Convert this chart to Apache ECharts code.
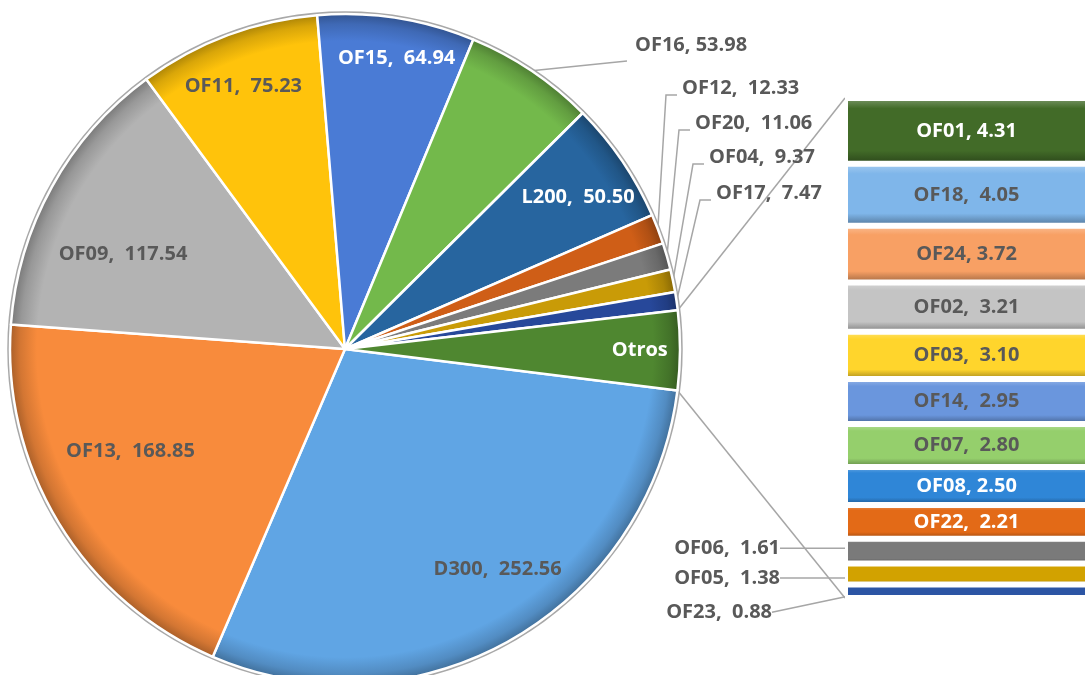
<!DOCTYPE html>
<html><head><meta charset="utf-8">
<script src="https://cdn.jsdelivr.net/npm/echarts@6.0.0/dist/echarts.min.js"></script>
<style>html,body{margin:0;padding:0;background:#fff}#c{width:1088px;height:675px}</style>
</head><body><div id="c"></div>
<script>
// ---- data ----
const pieNames  = ['D300','OF13','OF09','OF11','OF15','OF16','L200','OF12','OF20','OF04','OF17','Otros'];
const pieValues = [252.56,168.85,117.54,75.23,64.94,53.98,50.50,12.33,11.06,9.37,7.47];
const barNames  = ['OF01','OF18','OF24','OF02','OF03','OF14','OF07','OF08','OF22','OF06','OF05','OF23'];
const barValues = [4.31,4.05,3.72,3.21,3.10,2.95,2.80,2.50,2.21,1.61,1.38,0.88];

// ---- style / layout ----
const pieColors = ['#60a5e4','#f88b3c','#b3b3b3','#ffc30b','#4a7bd5','#73b94b','#27659f','#cf5e17','#7b7b7b','#c99b07','#27489a','#4f8730'];
const pieLabelColors = ['#595959','#595959','#595959','#595959','#ffffff','#595959','#ffffff','#595959','#595959','#595959','#595959','#ffffff'];
const pieLabelR  = [0.80,0.71,0.72,0.84,0.88,null,0.83,null,null,null,null,0.88];
const pieLabelDA = [-4.9,5.7,-5.9,-0.6,1.2,0,1.1,0,0,0,0,0];
const outLabelPos = {OF16:[635,45], OF12:[682,88], OF20:[695,123], OF04:[709,157], OF17:[716,193]};
const barColors = ['#426b28','#7fb6ea','#f8a064','#c4c4c4','#ffd52c','#6a96dd','#95cf6c','#2f86d7','#e36a17','#7a7a7a','#d2a200','#2c55a4'];
const barLabelColors = ['#ffffff','#595959','#595959','#595959','#595959','#595959','#595959','#ffffff','#ffffff','#595959','#595959','#595959'];
const barOutside = {OF06:[-65,-3], OF05:[-65,4], OF23:[-73,21]};
const singleSep = ['OF01','OF24','OF08','OF16'];
const FONT = 'Open Sans';
const FS = 20;
const CX = 345, CY = 349, R = 335, START = -7.1;
const LINE = '#a6a6a6';

const otros = barValues.reduce((a,b)=>a+b,0);
const pieAll = pieValues.concat([otros]);
const sum = pieAll.reduce((a,b)=>a+b,0);

function shade(hex, f){
  const n = parseInt(hex.slice(1),16);
  let r = n>>16, g = (n>>8)&255, b = n&255;
  const t = f<0?0:255, p = Math.abs(f);
  r = Math.round((t-r)*p+r); g = Math.round((t-g)*p+g); b = Math.round((t-b)*p+b);
  return 'rgb('+r+','+g+','+b+')';
}
function midAngle(i){
  let c = 0; for (let j=0;j<i;j++) c += pieAll[j];
  return -START + (c + pieAll[i]/2)/sum*360;
}
function polar(deg, rr){
  const a = deg*Math.PI/180;
  return [CX + rr*Math.cos(a), CY + rr*Math.sin(a)];
}
function sep(name){ return singleSep.indexOf(name)>=0 ? ', ' : ',  '; }

const pieGrad = c => ({type:'radial', x:CX, y:CY, r:R, global:true, colorStops:[
  {offset:0, color:c},{offset:0.92, color:c},{offset:0.97, color:shade(c,-0.15)},{offset:1, color:shade(c,-0.32)}]});
const barGrad = c => ({type:'linear', x:0, y:0, x2:0, y2:1, colorStops:[
  {offset:0, color:shade(c,0.3)},{offset:0.16, color:c},{offset:0.8, color:c},{offset:1, color:shade(c,-0.35)}]});

const txt = {fontFamily:FONT, fontWeight:'bold', fontSize:FS};

const mainData = pieAll.map((v,i)=>({
  name: pieNames[i], value: v,
  itemStyle:{color: pieGrad(pieColors[i])},
  label:{show: pieLabelR[i]!=null, color: pieLabelColors[i]}
}));
const outData = pieAll.map((v,i)=>({
  name: pieNames[i], value: v,
  label:{show: !!outLabelPos[pieNames[i]]},
  labelLine:{show: !!outLabelPos[pieNames[i]]}
}));

const barSeries = [];
for (let k = barNames.length-1; k>=0; k--){
  const name = barNames[k];
  const out = barOutside[name];
  const s = {
    type:'bar', name:name, stack:'otros', xAxisIndex:0, yAxisIndex:0,
    barWidth:'100%',
    data:[barValues[k]],
    itemStyle:{color: barGrad(barColors[k]), borderColor:'#ffffff', borderWidth:3},
    label:Object.assign({show:true, position: out?'left':'inside', color: barLabelColors[k],
      formatter: p => name + sep(name) + barValues[k].toFixed(2)}, txt),
    emphasis:{disabled:true},
    silent:true
  };
  if (out){
    s.labelLine = {show:true, lineStyle:{color:LINE, width:1.5}};
    s.labelLayout = p => ({x: p.rect.x + out[0], y: p.rect.y + p.rect.height/2 + out[1], align:'right', verticalAlign:'middle'});
  }
  barSeries.push(s);
}

const option = {
  animation:false,
  backgroundColor:'#ffffff',
  grid:{left:845, top:98, width:245, height:500},
  xAxis:{type:'category', data:['Otros'], show:false},
  yAxis:{type:'value', min:0, max:otros, show:false},
  series:[
    {
      type:'pie', center:[CX,CY], radius:R, startAngle:START, clockwise:true,
      silent:true, emphasis:{disabled:true}, avoidLabelOverlap:false,
      itemStyle:{borderColor:'#ffffff', borderWidth:2.5},
      label:Object.assign({position:'inside', formatter: p => p.dataIndex===pieAll.length-1 ? p.name : p.name + sep(p.name) + p.value.toFixed(2)}, txt),
      labelLine:{show:false},
      labelLayout: p => {
        const i = p.dataIndex;
        if (pieLabelR[i]==null) return {};
        const pt = polar(midAngle(i)+pieLabelDA[i], pieLabelR[i]*R);
        return {x:pt[0], y:pt[1], align:'center', verticalAlign:'middle'};
      },
      data: mainData
    },
    {
      type:'pie', center:[CX,CY], radius:R, startAngle:START, clockwise:true,
      silent:true, emphasis:{disabled:true}, avoidLabelOverlap:false,
      itemStyle:{color:'rgba(0,0,0,0)', borderWidth:0},
      label:Object.assign({position:'outside', color:'#595959', formatter: p => p.name + sep(p.name) + p.value.toFixed(2)}, txt),
      labelLine:{show:true, lineStyle:{color:LINE, width:1.5}},
      labelLayout: p => {
        const i = p.dataIndex;
        const pos = outLabelPos[pieNames[i]];
        if (!pos) return {};
        const e = polar(midAngle(i), R);
        let pts;
        if (pieNames[i]==='OF16') {
          const el = [pos[0]-8, pos[1]+16];
          pts = [e, el, el];
        } else {
          pts = [e, [pos[0]-16, pos[1]+7], [pos[0]-5, pos[1]+7]];
        }
        return {x:pos[0], y:pos[1], align:'left', verticalAlign:'middle', labelLinePoints:pts};
      },
      data: outData
    }
  ].concat(barSeries)
};

const chart = echarts.init(document.getElementById('c'));
chart.setOption(option);

const gridRect = chart.getModel().getComponent('grid',0).coordinateSystem.getRect();
const yTop = chart.convertToPixel({yAxisIndex:0}, otros);
const yBot = chart.convertToPixel({yAxisIndex:0}, 0);
const oStart = polar(-START + (sum-otros)/sum*360, R);
const oEnd = polar(-START + 360, R);
chart.setOption({graphic:[
  {type:'circle', silent:true, z:0, shape:{cx:CX, cy:CY, r:R+1.5}, style:{fill:null, stroke:'#a8a8a8', lineWidth:2.5}},
  {type:'line', silent:true, z:0, shape:{x1:oStart[0], y1:oStart[1], x2:gridRect.x, y2:yTop}, style:{stroke:LINE, lineWidth:1.5}},
  {type:'line', silent:true, z:0, shape:{x1:oEnd[0], y1:oEnd[1], x2:gridRect.x, y2:yBot}, style:{stroke:LINE, lineWidth:1.5}}
]});
</script>
</body></html>
